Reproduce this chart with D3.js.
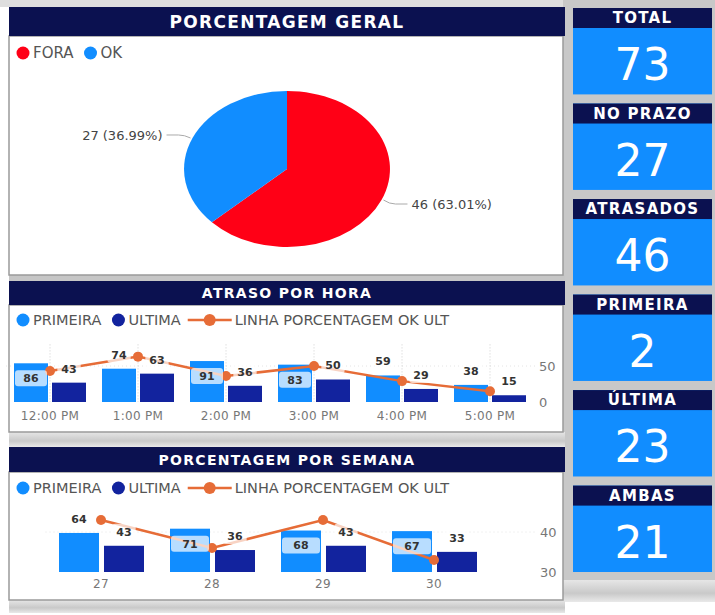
<!DOCTYPE html>
<html>
<head>
<meta charset="utf-8">
<script src="https://cdn.jsdelivr.net/npm/d3@7"></script>
<style>
  body { margin: 0; background: #fff; }
  text { font-family: "DejaVu Sans", sans-serif; }
</style>
</head>
<body>
<div id="viz"></div>
<script>
// data
var pieNames = ['FORA', 'OK'];
var pieValues = [46, 27];

var kpiNames = ['TOTAL', 'NO PRAZO', 'ATRASADOS', 'PRIMEIRA', 'ÚLTIMA', 'AMBAS'];
var kpiValues = [73, 27, 46, 2, 23, 21];

var seriesNames = ['PRIMEIRA', 'ULTIMA', 'LINHA PORCENTAGEM OK ULT'];

var hours = ['12:00 PM', '1:00 PM', '2:00 PM', '3:00 PM', '4:00 PM', '5:00 PM'];
var hourPrimeira = [86, 74, 91, 83, 59, 38];
var hourUltima = [43, 63, 36, 50, 29, 15];
var hourLinha = [43, 63, 36, 50, 29, 15];
var hourTicks = [0, 50];

var weeks = ['27', '28', '29', '30'];
var weekPrimeira = [64, 71, 68, 67];
var weekUltima = [43, 36, 43, 33];
var weekLinha = [43, 36, 43, 33];
var weekTicks = [30, 40];

// colours
var navy = '#0b1150';
var blue = '#118DFF';
var darkBlue = '#12239E';
var orange = '#E66C37';
var red = '#FF0016';

var svg = d3.select('#viz').append('svg')
  .attr('width', 715)
  .attr('height', 615);

var defs = svg.append('defs');
var shade = defs.append('linearGradient').attr('id', 'shade').attr('x1', 0).attr('x2', 0).attr('y1', 0).attr('y2', 1);
shade.append('stop').attr('offset', '0%').attr('stop-color', '#e6e6e6');
shade.append('stop').attr('offset', '60%').attr('stop-color', '#c9c9c9');
shade.append('stop').attr('offset', '100%').attr('stop-color', '#e9e9e9');

// background pieces
svg.append('rect').attr('width', 715).attr('height', 615).attr('fill', '#fff');
svg.append('rect').attr('x', 0).attr('y', 0).attr('width', 715).attr('height', 7).attr('fill', '#dedede');
svg.append('rect').attr('x', 563).attr('y', 0).attr('width', 152).attr('height', 580).attr('fill', '#c8c8c8');
svg.append('rect').attr('x', 563).attr('y', 580).attr('width', 152).attr('height', 22).attr('fill', 'url(#shade)');
svg.append('rect').attr('x', 9).attr('y', 275).attr('width', 556).attr('height', 7).attr('fill', '#c6c6c6');
svg.append('rect').attr('x', 9).attr('y', 432).attr('width', 556).attr('height', 15).attr('fill', 'url(#shade)');
svg.append('rect').attr('x', 9).attr('y', 600).attr('width', 556).attr('height', 13).attr('fill', 'url(#shade)');

// a panel = navy title bar + white body
function panel(y, headH, bodyH, title, size) {
  svg.append('rect')
    .attr('x', 9).attr('y', y + headH)
    .attr('width', 554).attr('height', bodyH)
    .attr('fill', '#fff').attr('stroke', '#9a9a9a').attr('stroke-width', 1.5);
  svg.append('rect')
    .attr('x', 9).attr('y', y)
    .attr('width', 556).attr('height', headH)
    .attr('fill', navy);
  svg.append('text')
    .attr('x', 287).attr('y', y + headH / 2)
    .attr('dy', '0.36em')
    .attr('text-anchor', 'middle')
    .attr('fill', '#fff')
    .attr('font-weight', 'bold')
    .attr('font-size', size)
    .attr('letter-spacing', 1.3)
    .text(title);
}

panel(7, 29, 239, 'PORCENTAGEM GERAL', 17);
panel(281, 24, 127, 'ATRASO POR HORA', 14);
panel(447, 25, 128, 'PORCENTAGEM POR SEMANA', 14);

// legend row, items laid out by measured text width
function legend(x, y, items, size) {
  var g = svg.append('g');
  var cx = x;
  items.forEach(function(it) {
    if (it.type == 'line') {
      g.append('line').attr('x1', cx - 10).attr('x2', cx + 34).attr('y1', y).attr('y2', y)
        .attr('stroke', it.color).attr('stroke-width', 2.5);
      g.append('circle').attr('cx', cx + 12).attr('cy', y).attr('r', 6).attr('fill', it.color);
      cx = cx + 37;
    } else {
      g.append('circle').attr('cx', cx).attr('cy', y).attr('r', 6.5).attr('fill', it.color);
      cx = cx + 10;
    }
    var t = g.append('text')
      .attr('x', cx).attr('y', y).attr('dy', '0.36em')
      .attr('font-size', size).attr('fill', '#555')
      .text(it.name);
    cx = cx + t.node().getComputedTextLength() + 17;
  });
}

legend(23, 53, [{name: pieNames[0], color: red}, {name: pieNames[1], color: blue}], 15);

// pie (the screenshot is stretched sideways, so the pie is an ellipse)
var pieCx = 287, pieCy = 169, pieR = 78, stretch = 1.32;
var pieColors = [red, blue];
var arcs = d3.pie().sort(null).value(function(d) { return d; })(pieValues);
var arc = d3.arc().innerRadius(0).outerRadius(pieR);
var pieTotal = d3.sum(pieValues);

svg.append('g')
  .attr('transform', 'translate(' + pieCx + ',' + pieCy + ') scale(' + stretch + ',1)')
  .selectAll('path')
  .data(arcs)
  .enter().append('path')
  .attr('d', arc)
  .attr('fill', function(d, i) { return pieColors[i]; });

arcs.forEach(function(d) {
  var a = (d.startAngle + d.endAngle) / 2;
  var px = pieCx + Math.sin(a) * pieR * stretch;
  var py = pieCy - Math.cos(a) * pieR;
  var side = Math.sin(a) > 0 ? 1 : -1;
  var dy = py > pieCy ? 4 : -3;
  svg.append('path')
    .attr('d', 'M' + (px + side * 2) + ',' + py +
      ' Q' + (px + side * 8) + ',' + (py + dy) + ' ' + (px + side * 14) + ',' + (py + dy) +
      ' L' + (px + side * 26) + ',' + (py + dy))
    .attr('fill', 'none').attr('stroke', '#aaa').attr('stroke-width', 1);
  svg.append('text')
    .attr('x', px + side * 30).attr('y', py + dy).attr('dy', '0.36em')
    .attr('text-anchor', side > 0 ? 'start' : 'end')
    .attr('font-size', 13).attr('fill', '#444')
    .text(d.data + ' (' + (d.data / pieTotal * 100).toFixed(2) + '%)');
});

// clustered bars + line on a second axis
function combo(opt) {
  var g = svg.append('g');
  var rows = opt.cats.map(function(c, i) {
    return {cat: c, PRIMEIRA: opt.prim[i], ULTIMA: opt.ult[i], linha: opt.linha[i]};
  });

  var x0 = d3.scaleBand().domain(opt.cats).range(opt.xRange);
  var x1 = d3.scaleBand().domain(['PRIMEIRA', 'ULTIMA']).range(opt.innerRange).paddingInner(opt.innerPad);
  var yBar = d3.scaleLinear().domain([0, 100]).range([opt.base, opt.barTop]);
  var yLine = d3.scaleLinear().domain(opt.lineDomain).range([opt.base, opt.lineTop]);
  var mid = function(d) { return x0(d.cat) + x0.bandwidth() / 2; };
  var colors = {PRIMEIRA: blue, ULTIMA: darkBlue};

  // faint dotted grid
  g.selectAll('.hgrid')
    .data(opt.ticks.filter(function(t) { return t > opt.lineDomain[0]; }))
    .enter().append('line')
    .attr('x1', opt.xRange[0]).attr('x2', opt.axisX - 4)
    .attr('y1', function(t) { return yLine(t); }).attr('y2', function(t) { return yLine(t); })
    .attr('stroke', '#e4e4e4').attr('stroke-dasharray', '1,3');
  if (opt.vgrid) {
    g.selectAll('.vgrid')
      .data(rows)
      .enter().append('line')
      .attr('x1', mid).attr('x2', mid)
      .attr('y1', opt.lineTop).attr('y2', opt.base)
      .attr('stroke', '#cfcfcf').attr('stroke-dasharray', '1,2');
  }

  // bars
  var cat = g.selectAll('.cat')
    .data(rows)
    .enter().append('g')
    .attr('transform', function(d) { return 'translate(' + x0(d.cat) + ',0)'; });
  cat.selectAll('rect')
    .data(function(d) { return ['PRIMEIRA', 'ULTIMA'].map(function(k) { return {key: k, value: d[k]}; }); })
    .enter().append('rect')
    .attr('x', function(d) { return x1(d.key); })
    .attr('y', function(d) { return yBar(d.value); })
    .attr('width', x1.bandwidth())
    .attr('height', function(d) { return opt.base - yBar(d.value); })
    .attr('fill', function(d) { return colors[d.key]; });

  // line
  g.append('path')
    .datum(rows)
    .attr('d', d3.line().x(mid).y(function(d) { return yLine(d.linha); }))
    .attr('fill', 'none').attr('stroke', orange).attr('stroke-width', 2.5);
  g.selectAll('.dot')
    .data(rows)
    .enter().append('circle')
    .attr('cx', mid).attr('cy', function(d) { return yLine(d.linha); })
    .attr('r', 5).attr('fill', orange);

  // data labels with a half see-through white box behind them
  rows.forEach(function(d) {
    ['PRIMEIRA', 'ULTIMA'].forEach(function(k) {
      var v = d[k];
      var top = yBar(v);
      var inside = k == 'PRIMEIRA' && v >= opt.inside;
      var cx = x0(d.cat) + x1(k) + x1.bandwidth() / 2;
      var cy = inside ? top + 15 : top - 14;
      var box = g.append('rect').attr('fill', '#fff').attr('opacity', 0.7).attr('rx', 3);
      var t = g.append('text')
        .attr('x', cx).attr('y', cy).attr('dy', '0.36em')
        .attr('text-anchor', 'middle')
        .attr('font-size', 11).attr('font-weight', 'bold').attr('fill', '#333')
        .text(v);
      var w = inside ? x1.bandwidth() - 2 : t.node().getComputedTextLength() + 8;
      box.attr('x', cx - w / 2).attr('y', cy - 8).attr('width', w).attr('height', 16);
    });
  });

  // category axis
  var xa = g.append('g')
    .attr('transform', 'translate(0,' + opt.base + ')')
    .call(d3.axisBottom(x0).tickSize(0).tickPadding(opt.catPad));
  xa.select('.domain').remove();
  xa.selectAll('text').attr('font-size', 12).attr('fill', '#777').attr('letter-spacing', 0.3)
    .attr('font-family', '"DejaVu Sans", sans-serif');

  // right value axis for the line
  var ya = g.append('g')
    .attr('transform', 'translate(' + opt.axisX + ',0)')
    .call(d3.axisRight(yLine).tickValues(opt.ticks).tickSize(0).tickPadding(0));
  ya.select('.domain').remove();
  ya.selectAll('text').attr('font-size', 13).attr('fill', '#777')
    .attr('font-family', '"DejaVu Sans", sans-serif');
}

var legendItems = [
  {name: seriesNames[0], color: blue},
  {name: seriesNames[1], color: darkBlue},
  {name: seriesNames[2], color: orange, type: 'line'}
];

legend(23, 320, legendItems, 14.5);
combo({
  cats: hours, prim: hourPrimeira, ult: hourUltima, linha: hourLinha,
  xRange: [6, 534], innerRange: [8, 80], innerPad: 0.105,
  base: 402, barTop: 357, lineDomain: [0, 80], lineTop: 344.4,
  ticks: hourTicks, axisX: 539, inside: 80, catPad: 9, vgrid: true
});

legend(23, 488, legendItems, 14.5);
combo({
  cats: weeks, prim: weekPrimeira, ult: weekUltima, linha: weekLinha,
  xRange: [45.5, 489.5], innerRange: [13.5, 98.5], innerPad: 0.111,
  base: 572, barTop: 511, lineDomain: [30, 45], lineTop: 512,
  ticks: weekTicks, axisX: 540, inside: 65, catPad: 7, vgrid: false
});

// KPI cards on the right
var kpiY = d3.scaleBand().domain(kpiNames).range([8, 572]).paddingInner(0.0956);
var card = svg.selectAll('.card')
  .data(kpiNames)
  .enter().append('g')
  .attr('class', 'card')
  .attr('transform', function(d) { return 'translate(573,' + kpiY(d) + ')'; });

card.append('rect')
  .attr('width', 139).attr('height', kpiY.bandwidth())
  .attr('fill', blue);
card.append('rect')
  .attr('width', 139).attr('height', 20)
  .attr('fill', navy);
card.append('text')
  .attr('x', 69.5).attr('y', 10).attr('dy', '0.36em')
  .attr('text-anchor', 'middle')
  .attr('fill', '#fff').attr('font-weight', 'bold')
  .attr('font-size', 15).attr('letter-spacing', 1.3)
  .text(function(d) { return d; });
card.append('text')
  .attr('x', 69.5).attr('y', 72)
  .attr('text-anchor', 'middle')
  .attr('fill', '#fff')
  .attr('font-size', 44)
  .text(function(d, i) { return kpiValues[i]; });
</script>
</body>
</html>
